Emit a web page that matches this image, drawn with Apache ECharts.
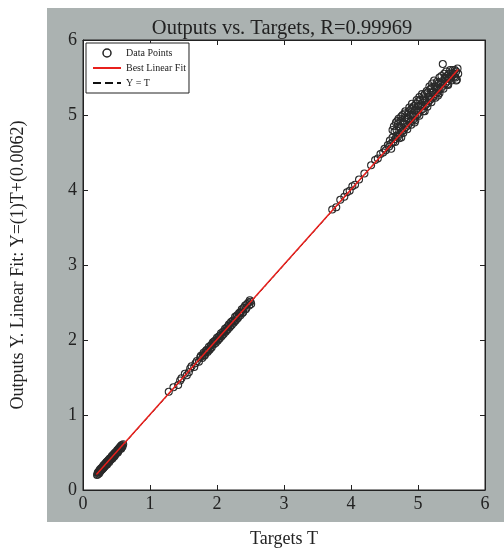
<!DOCTYPE html>
<html>
<head>
<meta charset="utf-8">
<script src="https://cdn.jsdelivr.net/npm/echarts@6/dist/echarts.min.js"></script>
<style>
  html, body { margin: 0; padding: 0; background: #fff; }
  #main { width: 504px; height: 554px; }
</style>
</head>
<body>
<div id="main"></div>
<script>
    // data: targets T and network outputs Y
    var targets = [
        0.21,0.22,0.23,0.24,0.25,0.25,0.26,0.27,0.28,0.29,0.30,0.31,0.32,0.32,0.33,0.34,0.35,0.36,0.37,0.38,
        0.38,0.39,0.40,0.41,0.42,0.43,0.44,0.44,0.45,0.46,0.47,0.48,0.49,0.50,0.51,0.52,0.52,0.53,0.54,0.55,
        0.56,0.57,0.57,0.58,0.59,0.60,
        0.22,0.24,0.26,0.28,0.30,0.31,0.33,0.35,0.36,0.39,0.41,0.42,0.43,0.45,0.47,0.48,0.50,0.51,0.53,0.55,
        0.58,0.29,0.34,0.40,
        1.28,1.35,1.42,1.47,1.52,1.58,1.62,1.66,1.70,1.73,1.76,1.78,1.80,1.82,1.84,1.86,1.88,1.89,1.91,1.92,
        1.94,1.95,1.97,1.98,2.00,2.01,2.03,2.04,2.06,2.07,2.09,2.10,2.12,2.13,2.15,2.16,2.18,2.19,2.21,2.22,
        2.24,2.25,2.27,2.28,2.30,2.31,2.33,2.35,2.37,2.39,2.42,2.44,2.47,2.49,2.51,
        1.75,1.79,1.81,1.83,1.85,1.87,1.90,1.93,1.96,1.99,2.02,2.05,2.08,2.11,2.14,2.17,2.20,2.23,2.26,2.29,
        2.32,2.34,2.36,2.38,2.40,2.43,2.45,2.48,2.50,1.55,1.60,1.68,1.45,
        3.72,3.78,3.84,3.90,3.94,3.98,4.02,4.06,4.12,4.20,
        4.30,4.36,4.40,4.44,4.48,4.50,4.52,4.55,4.57,4.58,4.60,4.62,4.63,4.65,4.66,4.68,4.69,4.70,4.72,4.73,
        4.75,4.76,4.78,4.79,4.80,4.82,4.83,4.85,4.86,4.88,4.89,4.90,4.92,4.93,4.95,4.96,4.97,4.99,5.00,5.01,
        5.03,5.04,5.05,5.07,5.08,5.10,5.11,5.12,5.14,5.15,5.16,5.18,5.19,5.20,5.22,5.23,5.25,5.26,5.27,5.29,
        5.30,5.31,5.33,5.34,5.36,5.37,5.38,5.40,5.41,5.43,5.44,5.46,5.47,5.49,5.50,5.52,5.53,5.55,5.56,5.57,
        5.58,5.59,5.60,
        4.75,4.95,5.10,5.30,4.60,5.45,4.80,4.90,5.00,5.10,5.20,5.28,4.70,4.62,
        4.64,4.67,4.71,4.74,4.77,4.81,4.84,4.87,4.91,4.94,4.98,5.02,5.06,5.09,5.13,5.17,5.21,5.24,5.32,5.35,
        5.39,5.42,5.48,
        4.66,4.72,4.78,4.84,4.90,4.96,5.02,5.08,5.14,5.20,5.26,5.32,5.38,5.44,5.50,5.54,
        4.68,4.74,4.80,4.86,4.92,4.98,5.04,5.10,5.16,5.22,5.28,5.34,5.40,5.46,5.52,5.57
    ];
    var outputs = [
        0.20,0.23,0.24,0.22,0.27,0.24,0.25,0.29,0.27,0.30,0.32,0.30,0.34,0.31,0.32,0.35,0.37,0.34,0.38,0.39,
        0.40,0.37,0.42,0.40,0.43,0.45,0.42,0.46,0.46,0.48,0.45,0.50,0.48,0.51,0.53,0.50,0.53,0.55,0.54,0.56,
        0.58,0.55,0.59,0.60,0.58,0.61,
        0.21,0.25,0.27,0.29,0.29,0.33,0.34,0.34,0.38,0.40,0.42,0.41,0.44,0.44,0.48,0.47,0.50,0.50,0.52,0.57,
        0.57,0.28,0.36,0.39,
        1.31,1.37,1.40,1.49,1.55,1.57,1.65,1.64,1.72,1.71,1.79,1.76,1.83,1.80,1.86,1.84,1.91,1.87,1.93,1.90,
        1.97,1.94,1.99,1.96,2.03,1.99,2.05,2.02,2.09,2.05,2.11,2.08,2.15,2.11,2.17,2.14,2.21,2.17,2.24,2.20,
        2.26,2.23,2.31,2.26,2.33,2.29,2.36,2.33,2.41,2.37,2.46,2.43,2.50,2.53,2.48,
        1.77,1.80,1.79,1.85,1.87,1.86,1.89,1.95,1.98,2.00,2.01,2.06,2.07,2.12,2.13,2.19,2.19,2.25,2.25,2.31,
        2.31,2.36,2.38,2.36,2.43,2.41,2.48,2.46,2.51,1.53,1.62,1.69,1.46,
        3.74,3.77,3.87,3.91,3.97,3.99,4.05,4.07,4.14,4.22,
        4.33,4.40,4.42,4.48,4.50,4.55,4.53,4.60,4.58,4.66,4.62,4.70,4.64,4.78,4.68,4.72,4.92,4.71,4.85,4.75,
        4.98,4.78,4.90,4.80,5.02,4.84,4.95,4.86,5.05,4.90,5.00,4.92,5.10,4.94,5.06,4.98,5.15,5.00,5.12,5.03,
        5.20,5.06,5.14,5.08,5.25,5.12,5.20,5.14,5.30,5.16,5.24,5.20,5.35,5.22,5.30,5.24,5.38,5.28,5.34,5.30,
        5.42,5.33,5.40,5.35,5.45,5.68,5.39,5.48,5.42,5.52,5.45,5.50,5.48,5.55,5.51,5.56,5.54,5.60,5.50,5.58,
        5.47,5.62,5.55,
        4.70,4.90,5.05,5.26,4.55,5.40,4.96,5.08,5.18,5.28,5.36,5.44,4.88,4.80,
        4.85,4.90,4.95,4.92,5.00,5.05,5.00,5.10,5.15,5.12,5.20,5.24,5.28,5.22,5.32,5.38,5.42,5.46,5.50,5.52,
        5.55,5.58,5.60,
        4.64,4.69,4.76,4.81,4.87,4.93,4.99,5.05,5.11,5.17,5.23,5.29,5.35,5.41,5.46,5.51,
        4.80,4.82,4.88,4.95,5.00,5.07,5.12,5.18,5.25,5.31,5.37,5.43,5.50,5.55,5.60,5.46
    ];
    // regression line Y = (1)T + (0.0062) over the range of targets
    var fitSlope = 1;
    var fitIntercept = 0.0062;
    var lineT = [0.2, 5.6];
    var axisTicks = [0, 1, 2, 3, 4, 5, 6];

    var points = targets.map(function (t, i) { return [t, outputs[i]]; });
    var fitLine = lineT.map(function (t) { return [t, fitSlope * t + fitIntercept]; });
    var idLine = lineT.map(function (t) { return [t, t]; });

    var serif = 'Liberation Serif';
    var myChart = echarts.init(document.getElementById('main'));

    var tickAxis = function (pos, isX, labels) {
        return {
            type: 'value',
            position: pos,
            min: axisTicks[0],
            max: axisTicks[axisTicks.length - 1],
            interval: 1,
            splitLine: { show: false },
            axisLine: { show: true, onZero: false, lineStyle: { color: '#222', width: 1 } },
            axisTick: { show: true, inside: true, length: 5, lineStyle: { color: '#222' } },
            axisLabel: { show: labels, color: '#222', fontFamily: serif, fontSize: 18, margin: isX ? 5 : 6 }
        };
    };

    var xBottom = tickAxis('bottom', true, true);
    xBottom.name = 'Targets T';
    xBottom.nameLocation = 'middle';
    xBottom.nameGap = 40;
    xBottom.nameTextStyle = { color: '#222', fontFamily: serif, fontSize: 18 };

    var yLeft = tickAxis('left', false, true);
    yLeft.name = 'Outputs Y. Linear Fit: Y=(1)T+(0.0062)';
    yLeft.nameLocation = 'middle';
    yLeft.nameGap = 56;
    yLeft.nameTextStyle = { color: '#222', fontFamily: serif, fontSize: 18 };

    var option = {
        backgroundColor: '#fff',
        animation: false,
        graphic: [{
            type: 'rect',
            z: -10,
            silent: true,
            shape: { x: 47, y: 8, width: 457, height: 514 },
            style: { fill: '#abb2b1' }
        }],
        title: {
            text: 'Outputs vs. Targets, R=0.99969',
            left: 277,
            textAlign: 'center',
            top: 13,
            textStyle: { fontFamily: serif, fontSize: 20.5, fontWeight: 'normal', color: '#222' }
        },
        grid: {
            left: 83, right: 19, top: 40, bottom: 64,
            show: true, backgroundColor: '#fff', borderColor: '#222', borderWidth: 1
        },
        legend: {
            orient: 'vertical',
            left: 86, top: 43,
            padding: [5, 3, 5, 6],
            itemGap: 5,
            itemWidth: 28,
            itemHeight: 8,
            backgroundColor: '#fff',
            borderColor: '#222',
            borderWidth: 1,
            borderRadius: 0,
            textStyle: { fontFamily: serif, fontSize: 10, color: '#222' },
            data: [
                { name: 'Data Points', itemStyle: { borderWidth: 1.5, borderColor: '#222' } },
                { name: 'Best Linear Fit', itemStyle: { opacity: 0 } },
                { name: 'Y = T', itemStyle: { opacity: 0 } }
            ]
        },
        xAxis: [xBottom, tickAxis('top', true, false)],
        yAxis: [yLeft, tickAxis('right', false, false)],
        series: [
            {
                name: 'Data Points',
                type: 'scatter',
                symbol: 'circle',
                symbolSize: 7,
                z: 2,
                itemStyle: { color: 'rgba(255,255,255,0)', borderColor: '#2a2a2a', borderWidth: 1.1, opacity: 1 },
                data: points
            },
            {
                name: 'Y = T',
                type: 'line',
                symbol: 'none',
                z: 3,
                lineStyle: { color: '#111', width: 1, type: 'dashed' },
                itemStyle: { color: '#111' },
                data: idLine
            },
            {
                name: 'Best Linear Fit',
                type: 'line',
                symbol: 'none',
                z: 4,
                lineStyle: { color: '#e8201c', width: 1.5 },
                itemStyle: { color: '#e8201c' },
                data: fitLine
            }
        ]
    };

    myChart.setOption(option);
</script>
</body>
</html>
